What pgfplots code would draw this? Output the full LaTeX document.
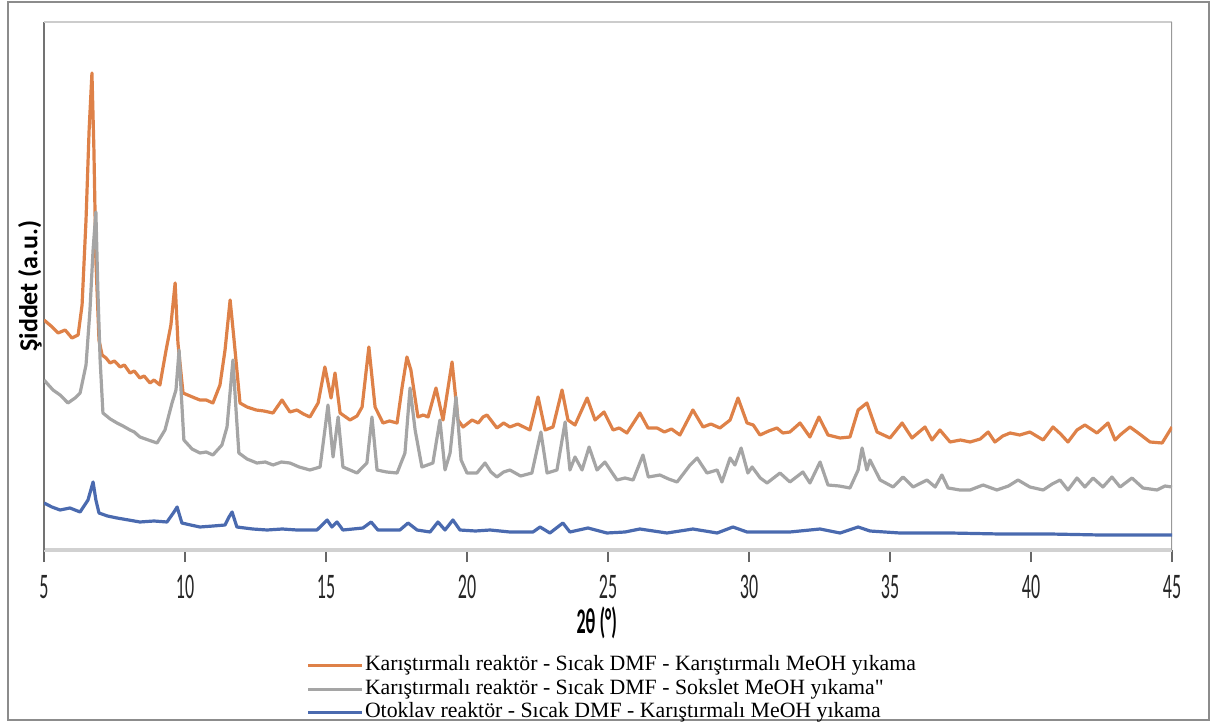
\documentclass[border=0pt]{standalone}
\usepackage{pgfplots}
\pgfplotsset{compat=1.18}
\usepackage{fontspec}
\setmainfont{Liberation Serif}
\newfontfamily\calibri{Carlito}
\definecolor{corange}{HTML}{DE8148}
\definecolor{cgray}{HTML}{A5A5A5}
\definecolor{cblue}{HTML}{4A6AAF}

\begin{document}
\begin{tikzpicture}
\path[use as bounding box] (0,0) rectangle (606.5pt,361pt);
\draw[black!45, line width=0.8pt] (4pt,1pt) rectangle (604.5pt,360pt);
\begin{axis}[
    at={(22pt,86pt)}, anchor=south west,
    scale only axis,
    width=564pt, height=264pt,
    xmin=5, xmax=45, ymin=0, ymax=528,
    xtick={5,10,...,45},
    ytick=\empty,
    axis x line*=bottom,
    axis y line*=left,
    x axis line style={draw=black!18, line width=2pt, -},
    y axis line style={draw=black!55, line width=0.7pt, -},
    xtick align=outside,
    major tick length=6pt,
    tick style={draw=black!60, line width=0.7pt},
    /pgf/number format/assume math mode=true,
    xticklabel style={font=\calibri\fontsize{18}{18}\selectfont, xscale=0.5, inner sep=1pt, yshift=-5.5pt, text=black!85},
    xlabel={\textbf{2θ (°)}},
    xlabel style={font=\calibri\fontsize{18}{18}\selectfont, xscale=0.5, inner sep=1pt, at={(rel axis cs:0.49,0)}, anchor=center, yshift=-36.5pt},
    ylabel={\textbf{Şiddet (a.u.)}},
    ylabel style={font=\calibri\fontsize{13}{13}\selectfont, at={(rel axis cs:0,0.5)}, anchor=center, yshift=7pt},
    legend style={at={(rel axis cs:0.236,-0.189)}, anchor=north west, xshift=-5pt, draw=none, fill=none,
        font=\fontsize{10.9}{11}\selectfont, row sep=0.4pt,
        nodes={inner sep=0.6pt, text height=7.6pt, text depth=2.6pt},
        cells={anchor=west}},
    legend image code/.code={\draw[#1, line width=1.6pt] (0pt,0pt) -- (27pt,0pt);},
    every axis plot/.append style={line width=1.6pt, line join=round},
]
\draw[black!20, line width=0.6pt] (rel axis cs:0,1) -- (rel axis cs:1,1);
\draw[black!40, line width=0.6pt] (rel axis cs:1,1) -- (rel axis cs:1,0);

\addplot[corange] coordinates {
(5.00,230) (5.25,224) (5.50,217) (5.75,220) (5.99,212) (6.21,215) (6.35,245) (6.49,330)
(6.60,420) (6.70,477) (6.77,400) (6.84,290) (6.95,210) (7.06,195) (7.20,192) (7.34,187)
(7.50,189) (7.70,183) (7.85,185) (8.05,177) (8.20,179) (8.40,172) (8.55,174) (8.76,167)
(8.90,170) (9.11,165) (9.33,200) (9.50,225) (9.65,267) (9.75,207) (9.93,157) (10.18,154)
(10.35,152) (10.53,150) (10.75,150) (10.99,147) (11.24,165) (11.42,200) (11.60,250) (11.74,210)
(11.95,147) (12.20,143) (12.52,140) (12.80,139) (13.12,137) (13.44,150) (13.72,138) (13.97,140)
(14.20,136) (14.43,133) (14.72,147) (14.96,183) (15.18,152) (15.32,177) (15.50,137) (15.85,130)
(16.10,134) (16.28,143) (16.52,203) (16.74,143) (17.02,127) (17.25,129) (17.52,127) (17.70,163)
(17.87,193) (18.01,180) (18.26,133) (18.45,135) (18.62,133) (18.90,162) (19.15,130) (19.47,188)
(19.68,130) (19.86,123) (20.18,130) (20.40,127) (20.57,133) (20.71,135) (21.06,122) (21.30,127)
(21.52,123) (21.80,126) (22.23,120) (22.52,153) (22.77,120) (23.05,123) (23.37,160) (23.58,130)
(23.83,125) (24.26,152) (24.54,130) (24.86,138) (25.18,120) (25.40,122) (25.67,117) (26.13,137)
(26.42,122) (26.74,122) (27.00,118) (27.25,121) (27.55,115) (28.01,140) (28.37,123) (28.65,126)
(28.97,122) (29.33,130) (29.61,152) (29.93,127) (30.15,125) (30.39,115) (30.70,119) (30.99,122)
(31.20,117) (31.45,118) (31.81,127) (32.16,113) (32.48,133) (32.80,115) (33.23,112) (33.58,113)
(33.87,140) (34.18,147) (34.54,118) (35.00,112) (35.43,127) (35.78,112) (36.24,123) (36.49,110)
(36.77,120) (37.13,108) (37.50,110) (37.84,108) (38.20,111) (38.48,118) (38.72,108) (39.00,114)
(39.26,117) (39.60,115) (39.96,118) (40.43,110) (40.78,123) (41.05,116) (41.31,108) (41.63,120)
(41.91,125) (42.34,117) (42.73,127) (42.98,110) (43.20,116) (43.51,123) (43.85,116) (44.22,108)
(44.65,107) (45.00,123)
};
\addlegendentry{Karıştırmalı reaktör - Sıcak DMF - Karıştırmalı MeOH yıkama}

\addplot[cgray] coordinates {
(5.00,170) (5.32,160) (5.57,155) (5.85,147) (6.10,152) (6.28,157) (6.49,185) (6.63,240)
(6.74,300) (6.84,338) (6.91,260) (6.99,190) (7.09,137) (7.35,131) (7.59,127) (7.80,124)
(8.05,120) (8.20,118) (8.40,113) (8.70,110) (9.01,107) (9.29,120) (9.54,147) (9.68,160)
(9.79,200) (9.86,160) (9.96,110) (10.25,101) (10.53,97) (10.75,98) (10.99,95) (11.31,105)
(11.49,123) (11.70,190) (11.81,140) (11.91,97) (12.20,91) (12.55,87) (12.85,88) (13.12,85)
(13.42,88) (13.72,87) (14.05,83) (14.43,80) (14.79,83) (14.96,120) (15.07,145) (15.25,93)
(15.43,133) (15.60,83) (15.85,80) (16.10,77) (16.45,87) (16.63,133) (16.81,80) (17.15,78)
(17.52,77) (17.80,97) (17.98,162) (18.16,120) (18.40,83) (18.79,87) (19.04,130) (19.22,80)
(19.40,97) (19.61,153) (19.79,90) (20.00,77) (20.35,77) (20.64,87) (20.85,78) (21.06,73)
(21.30,78) (21.52,80) (21.90,74) (22.30,77) (22.62,118) (22.84,77) (23.19,80) (23.48,128)
(23.65,80) (23.83,93) (24.08,80) (24.33,103) (24.61,80) (24.89,88) (25.32,70) (25.60,72)
(25.89,70) (26.24,95) (26.43,73) (26.84,75) (27.15,71) (27.45,68) (27.91,85) (28.16,92)
(28.51,77) (28.87,80) (29.04,68) (29.33,92) (29.50,85) (29.72,102) (29.96,77) (30.11,83)
(30.40,72) (30.64,67) (31.10,77) (31.45,68) (31.91,78) (32.16,67) (32.52,88) (32.80,65)
(33.20,64) (33.58,62) (33.87,80) (34.01,102) (34.18,80) (34.29,90) (34.65,70) (35.11,63)
(35.46,73) (35.82,63) (36.31,70) (36.60,63) (36.84,75) (37.06,62) (37.48,60) (37.84,60)
(38.30,65) (38.79,60) (39.20,64) (39.54,70) (39.96,63) (40.43,60) (40.75,66) (41.03,70)
(41.31,60) (41.63,72) (41.91,63) (42.20,72) (42.55,63) (42.87,73) (43.16,63) (43.58,72)
(43.97,62) (44.47,60) (44.75,64) (45.00,63)
};
\addlegendentry{Karıştırmalı reaktör - Sıcak DMF - Sokslet MeOH yıkama\textquotedbl}

\addplot[cblue] coordinates {
(5.00,47) (5.28,43) (5.57,40) (5.92,42) (6.28,38) (6.56,50) (6.74,68) (6.84,50)
(6.95,37) (7.25,34) (7.59,32) (8.00,30) (8.40,28) (8.90,29) (9.36,28) (9.61,38)
(9.72,43) (9.89,27) (10.20,25) (10.53,23) (11.00,24) (11.42,25) (11.56,33) (11.67,38)
(11.84,23) (12.40,21) (12.91,20) (13.45,21) (13.97,20) (14.68,20) (15.04,30) (15.21,23)
(15.39,28) (15.60,20) (16.31,22) (16.60,28) (16.84,20) (17.62,20) (17.91,27) (18.23,20)
(18.69,18) (18.97,28) (19.22,20) (19.50,30) (19.75,20) (20.30,19) (20.82,20) (21.52,18)
(22.34,18) (22.59,23) (22.94,17) (23.40,27) (23.65,18) (24.29,22) (24.96,17) (25.60,18)
(26.13,21) (27.09,17) (28.01,21) (28.87,17) (29.43,23) (29.93,18) (31.45,18) (32.52,21)
(33.23,17) (33.87,23) (34.29,19) (35.35,17) (37.13,17) (38.90,16) (40.67,16) (42.45,15)
(45.00,15)
};
\addlegendentry{Otoklav reaktör - Sıcak DMF - Karıştırmalı MeOH yıkama}
\end{axis}
\end{tikzpicture}
\end{document}
